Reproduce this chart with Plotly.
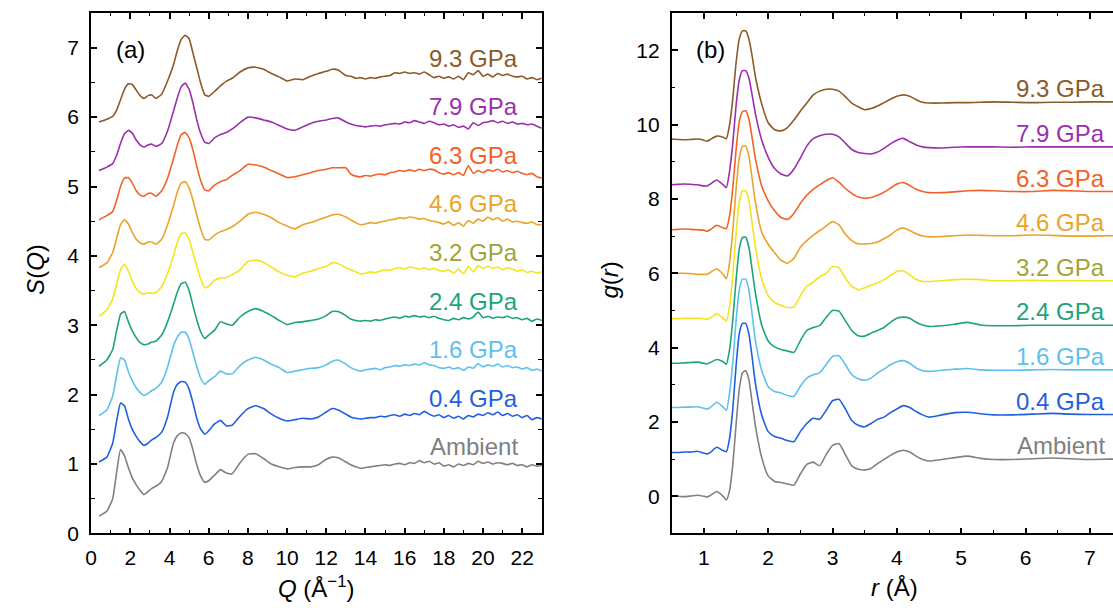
import plotly.graph_objects as go

# ---------------- data ----------------
PRESSURES = ["Ambient", "0.4 GPa", "1.6 GPa", "2.4 GPa", "3.2 GPa", "4.6 GPa", "6.3 GPa", "7.9 GPa", "9.3 GPa"]
LINE_COLORS = ["#808080", "#1f5fe0", "#5ec0ef", "#1ea37a", "#f4e41c", "#eba329", "#f26226", "#9b2fae", "#8c5a28"]
TEXT_COLORS = ["#808080", "#1f5fe0", "#5ec0ef", "#1ea37a", "#a0a434", "#eba329", "#f26226", "#9b2fae", "#8c5a28"]
SQ_OFFSETS = [0.0, 0.7, 1.4, 2.1, 2.8, 3.5, 4.2, 4.9, 5.6]
GR_OFFSETS = [0.0, 1.2, 2.4, 3.6, 4.8, 6.0, 7.2, 8.4, 9.6]

Q = [0.4, 0.8, 1.1, 1.3, 1.5, 1.7, 1.9, 2.1, 2.3, 2.5, 2.7, 2.9, 3.1, 3.3, 3.6, 3.9, 4.2, 4.4, 4.6, 4.8, 5.0, 5.2, 5.4, 5.6, 5.8, 6.0,
     6.3, 6.6, 6.9, 7.2, 7.6, 8.0, 8.4, 8.8, 9.2, 9.6, 10.0, 10.4, 10.8, 11.2, 11.6, 12.0, 12.3, 12.6,
     13.0, 13.25, 13.5, 13.75, 14.0, 14.25, 14.5, 14.75, 15.0, 15.25, 15.5, 15.75, 16.0, 16.25, 16.5, 16.75,
     17.0, 17.25, 17.5, 17.75, 18.0, 18.25, 18.5, 18.75, 19.0, 19.25, 19.5, 19.75, 20.0, 20.25, 20.5, 20.75,
     21.0, 21.25, 21.5, 21.75, 22.0, 22.25, 22.5, 22.75, 23.0]

SQ_AMB = [0.25, 0.32, 0.5, 0.88, 1.21, 1.12, 0.95, 0.8, 0.7, 0.62, 0.56, 0.6, 0.65, 0.68, 0.75, 0.95, 1.3, 1.41, 1.45, 1.44, 1.38, 1.2, 0.98, 0.82, 0.74, 0.76,
          0.84, 0.92, 0.87, 0.86, 1.02, 1.14, 1.15, 1.08, 1.0, 0.96, 0.93, 0.95, 0.96, 0.96, 0.99, 1.07, 1.1, 1.09,
          1.03, 0.99, 0.96, 0.94, 0.95, 0.96, 0.97, 0.98, 0.99, 0.98, 1.0, 1.01, 0.99, 1.02, 1.01, 1.05, 1.02, 1.04, 1.0, 1.02,
          0.97, 0.99, 0.96, 1.0, 0.98, 1.01, 0.99, 1.04, 1.01, 1.03, 1.0, 1.02, 1.01, 0.99, 1.01, 0.98, 0.99, 0.96, 0.99, 0.97, 0.98]
SQ_04 = [0.33, 0.4, 0.6, 0.92, 1.18, 1.14, 0.95, 0.8, 0.7, 0.62, 0.57, 0.6, 0.65, 0.68, 0.76, 0.98, 1.33, 1.45, 1.49, 1.48, 1.38, 1.18, 0.95, 0.8, 0.73, 0.78,
         0.88, 0.93, 0.85, 0.86, 0.99, 1.1, 1.14, 1.1, 1.02, 0.96, 0.92, 0.94, 0.96, 0.95, 0.98, 1.05, 1.1, 1.08,
         1.02, 0.98, 0.96, 0.95, 0.96, 0.97, 0.97, 0.99, 0.98, 1.0, 1.01, 0.99, 1.02, 1.0, 1.03, 1.01, 1.06, 1.02, 0.99, 1.01,
         0.97, 1.0, 0.96, 0.99, 0.95, 1.0, 0.98, 1.02, 1.0, 1.04, 1.01, 1.05, 1.0, 1.03, 0.99, 1.01, 0.97, 1.0, 0.94, 0.97, 0.95]
SQ_16 = [0.3, 0.38, 0.58, 0.88, 1.13, 1.1, 0.93, 0.8, 0.7, 0.63, 0.59, 0.62, 0.66, 0.69, 0.78, 1.0, 1.3, 1.43, 1.5, 1.5, 1.4, 1.2, 1.0, 0.83, 0.75, 0.8,
         0.86, 0.94, 0.9, 0.9, 1.02, 1.1, 1.14, 1.1, 1.04, 0.99, 0.92, 0.94, 0.96, 0.98, 0.99, 1.03, 1.08, 1.1,
         1.04, 0.99, 0.96, 0.94, 0.96, 0.97, 0.98, 0.96, 0.99, 1.0, 1.02, 1.01, 1.03, 1.02, 1.04, 1.03, 1.06, 1.03, 1.02, 0.99,
         0.98, 1.0, 0.97, 0.99, 0.95, 1.0, 0.98, 1.05, 1.0, 1.03, 1.01, 1.04, 1.0, 1.02, 0.99, 1.0, 0.97, 0.99, 0.95, 0.97, 0.94]
SQ_24 = [0.31, 0.4, 0.55, 0.82, 1.06, 1.1, 0.95, 0.82, 0.72, 0.65, 0.62, 0.63, 0.66, 0.67, 0.76, 0.95, 1.2, 1.38, 1.5, 1.52, 1.4, 1.18, 0.97, 0.8, 0.71, 0.76,
         0.83, 0.95, 0.92, 0.9, 1.02, 1.1, 1.14, 1.1, 1.04, 0.97, 0.91, 0.94, 0.95, 0.97, 0.99, 1.04, 1.1, 1.1,
         1.04, 0.99, 0.97, 0.96, 0.97, 0.96, 0.98, 0.97, 0.99, 1.01, 1.02, 1.0, 1.03, 1.02, 1.04, 1.02, 1.03, 1.01, 1.03, 1.0,
         0.98, 0.97, 1.0, 0.98, 1.01, 0.99, 1.02, 1.09, 1.01, 1.03, 1.0, 1.02, 1.01, 1.03, 1.0, 1.01, 0.98, 1.0, 0.96, 0.99, 0.97]
SQ_32 = [0.33, 0.42, 0.58, 0.8, 1.0, 1.08, 0.98, 0.84, 0.73, 0.67, 0.65, 0.67, 0.66, 0.67, 0.76, 0.95, 1.2, 1.4, 1.52, 1.53, 1.44, 1.24, 1.04, 0.86, 0.74, 0.76,
         0.85, 0.88, 0.89, 0.93, 1.0, 1.12, 1.14, 1.11, 1.04, 0.97, 0.92, 0.9, 0.95, 0.98, 1.02, 1.05, 1.1, 1.09,
         1.03, 1.0, 0.97, 0.94, 0.95, 0.97, 0.96, 0.98, 1.0, 0.99, 1.02, 1.03, 1.01, 1.04, 1.03, 1.01, 1.03, 1.0, 1.02, 0.99,
         0.98, 1.0, 0.95, 1.01, 0.94, 1.05, 0.97, 1.06, 1.02, 1.05, 1.02, 1.04, 1.0, 1.03, 1.01, 0.98, 1.0, 0.96, 0.98, 0.95, 0.97]
SQ_46 = [0.33, 0.4, 0.55, 0.75, 0.95, 1.02, 0.96, 0.84, 0.74, 0.69, 0.67, 0.7, 0.7, 0.67, 0.74, 0.95, 1.22, 1.42, 1.55, 1.57, 1.48, 1.3, 1.08, 0.88, 0.74, 0.73,
         0.8, 0.85, 0.88, 0.92, 1.0, 1.1, 1.13, 1.1, 1.05, 0.98, 0.93, 0.89, 0.95, 0.98, 1.02, 1.06, 1.09, 1.1,
         1.06, 1.02, 0.98, 0.95, 0.96, 0.98, 0.97, 0.99, 1.0, 1.02, 1.03, 1.05, 1.04, 1.06, 1.05, 1.03, 1.04, 1.01, 1.0, 0.98,
         0.96, 0.99, 0.94, 0.98, 0.93, 1.01, 0.97, 1.03, 1.0, 1.06, 1.02, 1.05, 1.0, 1.03, 0.99, 1.0, 0.98, 0.97, 0.99, 0.95, 0.95]
SQ_63 = [0.32, 0.38, 0.44, 0.6, 0.8, 0.92, 0.93, 0.85, 0.74, 0.68, 0.66, 0.7, 0.7, 0.66, 0.74, 0.92, 1.2, 1.4, 1.55, 1.58, 1.5, 1.32, 1.08, 0.88, 0.75, 0.74,
         0.82, 0.87, 0.9, 0.96, 1.03, 1.12, 1.11, 1.08, 1.03, 0.98, 0.93, 0.94, 0.97, 1.0, 1.03, 1.05, 1.07, 1.07,
         1.07, 0.98, 0.95, 0.94, 0.96, 0.95, 0.97, 0.98, 0.97, 1.0, 1.01, 1.03, 1.02, 1.04, 1.02, 1.05, 1.03, 1.05, 1.04, 1.0,
         0.98, 1.0, 0.97, 1.0, 0.96, 1.1, 0.99, 1.03, 1.0, 1.04, 1.02, 1.05, 1.01, 1.03, 1.0, 1.02, 0.99, 0.97, 0.99, 0.94, 0.92]
SQ_79 = [0.33, 0.38, 0.43, 0.55, 0.72, 0.86, 0.91, 0.87, 0.77, 0.7, 0.67, 0.7, 0.71, 0.68, 0.72, 0.9, 1.18, 1.38, 1.54, 1.59, 1.5, 1.3, 1.05, 0.86, 0.74, 0.72,
         0.8, 0.85, 0.88, 0.93, 1.02, 1.1, 1.09, 1.06, 1.03, 0.98, 0.93, 0.91, 0.96, 1.01, 1.04, 1.06, 1.08, 1.09,
         1.03, 1.0, 0.98, 0.97, 0.96, 0.97, 0.98, 0.97, 0.99, 1.0, 1.01, 1.0, 1.03, 1.02, 1.05, 1.03, 1.01, 1.04, 1.02, 0.99,
         1.0, 0.97, 0.99, 0.95, 0.97, 0.93, 1.02, 0.98, 1.02, 1.03, 1.05, 1.02, 1.04, 1.01, 1.03, 1.0, 1.01, 0.99, 1.0, 0.97, 0.94]
SQ_93 = [0.33, 0.37, 0.41, 0.5, 0.65, 0.8, 0.88, 0.87, 0.79, 0.71, 0.67, 0.71, 0.72, 0.67, 0.73, 0.92, 1.15, 1.36, 1.52, 1.58, 1.53, 1.32, 1.1, 0.88, 0.72, 0.7,
         0.77, 0.85, 0.92, 0.96, 1.05, 1.11, 1.12, 1.09, 1.03, 0.98, 0.92, 0.95, 0.94, 0.99, 1.03, 1.06, 1.09, 1.08,
         1.0, 0.99, 0.96, 0.97, 0.95, 0.97, 0.96, 0.98, 0.99, 1.0, 1.04, 1.03, 1.05, 1.03, 1.04, 1.02, 1.05, 1.01, 0.97, 0.99,
         0.96, 0.98, 0.95, 0.99, 0.94, 1.04, 1.01, 1.07, 0.99, 1.02, 0.98, 1.03, 1.0, 1.02, 0.99, 0.98, 0.99, 0.95, 0.97, 0.94, 0.96]

R = [0.5, 0.6, 0.7, 0.8, 0.9, 1.0, 1.05, 1.1, 1.2, 1.3, 1.35, 1.4, 1.45, 1.5, 1.55, 1.6, 1.65, 1.7, 1.75, 1.8,
     1.9, 2.0, 2.1, 2.2, 2.3, 2.4, 2.5, 2.6, 2.7, 2.8, 2.9, 3.0, 3.1, 3.2, 3.3, 3.4, 3.5, 3.6, 3.7, 3.8,
     3.9, 4.0, 4.1, 4.2, 4.3, 4.4, 4.5, 4.7, 4.9, 5.1, 5.3, 5.5, 5.8, 6.1, 6.4, 6.7, 7.0, 7.3, 7.6, 8.0]

GR_AMB = [0.0, 0.0, -0.01, 0.01, 0.03, 0.0, -0.02, 0.02, 0.13, 0.0, -0.1, 0.16, 0.86, 1.91, 2.88, 3.32, 3.38, 3.14, 2.53, 1.91,
          1.04, 0.55, 0.4, 0.37, 0.33, 0.3, 0.6, 0.86, 0.92, 0.82, 1.12, 1.37, 1.42, 1.12, 0.82, 0.73, 0.71, 0.75, 0.88, 0.99,
          1.1, 1.19, 1.24, 1.19, 1.08, 0.99, 0.95, 0.99, 1.04, 1.08, 1.02, 0.99, 0.99, 1.01, 1.03, 1.01, 0.99, 1.0, 1.0, 1.0]
GR_04 = [-0.02, -0.02, -0.01, -0.01, 0.01, -0.04, -0.06, -0.02, 0.12, 0.03, 0.0, 0.36, 1.15, 2.29, 3.17, 3.45, 3.45, 3.17, 2.55, 1.85,
         0.98, 0.54, 0.41, 0.36, 0.3, 0.27, 0.54, 0.76, 0.9, 0.87, 1.11, 1.37, 1.41, 1.15, 0.84, 0.71, 0.67, 0.76, 0.87, 0.93,
         1.05, 1.15, 1.24, 1.19, 1.08, 0.99, 0.93, 0.99, 1.05, 1.06, 1.02, 0.99, 0.99, 1.01, 1.03, 1.01, 1.0, 1.0, 1.0, 1.0]
GR_16 = [-0.01, -0.01, 0.0, 0.0, 0.01, -0.03, -0.05, -0.01, 0.13, 0.0, -0.09, 0.39, 1.2, 2.3, 3.15, 3.44, 3.44, 3.15, 2.5, 1.8,
         0.98, 0.55, 0.42, 0.38, 0.31, 0.29, 0.56, 0.78, 0.87, 0.92, 1.14, 1.36, 1.38, 1.14, 0.87, 0.76, 0.72, 0.78, 0.92, 1.02,
         1.14, 1.22, 1.25, 1.18, 1.05, 0.98, 0.96, 0.99, 1.02, 1.04, 1.0, 0.99, 0.99, 1.0, 1.01, 1.0, 1.0, 1.0, 1.0, 1.0]
GR_24 = [-0.02, -0.02, -0.01, 0.0, 0.01, -0.02, -0.04, 0.0, 0.08, 0.02, -0.05, 0.35, 1.15, 2.2, 3.05, 3.36, 3.37, 3.1, 2.5, 1.88,
         1.0, 0.58, 0.42, 0.35, 0.31, 0.27, 0.59, 0.86, 0.94, 0.99, 1.21, 1.4, 1.38, 1.12, 0.86, 0.72, 0.71, 0.79, 0.86, 0.94,
         1.08, 1.19, 1.22, 1.19, 1.08, 1.01, 0.97, 0.99, 1.03, 1.08, 1.01, 0.99, 0.99, 1.0, 1.0, 1.0, 1.0, 1.0, 1.0, 1.0]
GR_32 = [-0.02, -0.02, -0.01, -0.01, -0.01, -0.02, -0.04, 0.0, 0.11, -0.01, -0.08, 0.3, 1.15, 2.25, 3.1, 3.42, 3.42, 3.15, 2.55, 1.92,
         1.05, 0.6, 0.42, 0.33, 0.28, 0.29, 0.6, 0.85, 0.96, 1.11, 1.2, 1.38, 1.35, 1.07, 0.85, 0.76, 0.81, 0.88, 0.94, 1.03,
         1.14, 1.25, 1.26, 1.16, 1.03, 0.98, 0.98, 1.0, 1.03, 1.04, 1.03, 1.0, 1.0, 1.01, 1.0, 1.0, 1.0, 1.0, 1.0, 1.0]
GR_46 = [0.0, 0.0, 0.0, -0.01, -0.03, -0.03, -0.03, 0.02, 0.12, -0.03, -0.15, 0.3, 1.15, 2.25, 3.1, 3.42, 3.42, 3.15, 2.55, 1.92,
         1.1, 0.78, 0.55, 0.35, 0.27, 0.4, 0.7, 0.88, 1.02, 1.15, 1.27, 1.39, 1.3, 1.05, 0.88, 0.79, 0.79, 0.8, 0.84, 0.93,
         1.03, 1.16, 1.22, 1.15, 1.06, 1.0, 0.98, 0.99, 1.01, 1.03, 1.02, 1.01, 1.01, 1.03, 1.02, 1.0, 1.0, 1.01, 1.01, 1.01]
GR_63 = [-0.03, -0.02, -0.01, -0.02, -0.03, -0.04, -0.07, -0.03, 0.09, 0.02, 0.0, 0.35, 1.1, 2.1, 2.88, 3.15, 3.17, 2.95, 2.45, 1.9,
         1.15, 0.75, 0.48, 0.3, 0.25, 0.41, 0.68, 0.9, 1.06, 1.18, 1.29, 1.37, 1.25, 1.08, 0.95, 0.85, 0.82, 0.84, 0.9, 0.98,
         1.09, 1.2, 1.24, 1.16, 1.06, 1.0, 0.97, 0.97, 0.99, 1.02, 1.03, 1.02, 1.0, 1.0, 1.03, 1.02, 1.0, 1.0, 1.0, 1.0]
GR_79 = [-0.02, -0.01, 0.0, -0.01, -0.02, -0.05, -0.05, 0.0, 0.11, -0.02, -0.1, 0.35, 1.1, 2.1, 2.8, 3.05, 3.05, 2.85, 2.4, 1.9,
         1.18, 0.72, 0.42, 0.27, 0.22, 0.4, 0.7, 1.02, 1.22, 1.3, 1.34, 1.34, 1.27, 1.1, 0.93, 0.85, 0.82, 0.81, 0.86, 0.96,
         1.08, 1.18, 1.23, 1.14, 1.05, 1.0, 0.98, 0.97, 0.99, 1.0, 1.0, 1.0, 0.99, 1.0, 1.0, 1.0, 1.0, 1.0, 1.0, 1.01]
GR_93 = [0.01, 0.0, -0.01, 0.0, 0.01, -0.02, -0.05, 0.0, 0.09, 0.06, 0.02, 0.4, 1.1, 2.05, 2.7, 2.92, 2.92, 2.7, 2.25, 1.7,
         0.95, 0.45, 0.26, 0.23, 0.32, 0.52, 0.76, 0.98, 1.2, 1.3, 1.35, 1.35, 1.3, 1.15, 0.98, 0.88, 0.8, 0.83, 0.9, 0.99,
         1.08, 1.16, 1.2, 1.16, 1.07, 1.0, 0.98, 0.98, 0.99, 0.99, 1.0, 1.01, 1.0, 0.99, 1.0, 1.0, 1.01, 1.01, 1.01, 1.01]

SQ_ALL = [SQ_AMB, SQ_04, SQ_16, SQ_24, SQ_32, SQ_46, SQ_63, SQ_79, SQ_93]
GR_ALL = [GR_AMB, GR_04, GR_16, GR_24, GR_32, GR_46, GR_63, GR_79, GR_93]

for s in SQ_ALL:
    assert len(s) == len(Q), len(s)
for g in GR_ALL:
    assert len(g) == len(R), len(g)

# ---------------- figure ----------------
FONT = "Arial, 'Liberation Sans', sans-serif"
W, H = 1113, 608

fig = go.Figure()

for i in range(len(PRESSURES)):
    fig.add_trace(go.Scatter(
        x=Q, y=[v + SQ_OFFSETS[i] for v in SQ_ALL[i]], mode="lines",
        line=dict(color=LINE_COLORS[i], width=1.6, shape="spline", smoothing=0.4),
        xaxis="x", yaxis="y", showlegend=False, hoverinfo="skip"))
    fig.add_trace(go.Scatter(
        x=R, y=[v + GR_OFFSETS[i] for v in GR_ALL[i]], mode="lines",
        line=dict(color=LINE_COLORS[i], width=1.6, shape="spline", smoothing=0.5),
        xaxis="x2", yaxis="y2", showlegend=False, hoverinfo="skip"))

annotations = []
for i, name in enumerate(PRESSURES):
    annotations.append(dict(x=21.9, y=SQ_OFFSETS[i] + 1.25, xref="x", yref="y", text=name,
                            showarrow=False, xanchor="right", yanchor="middle",
                            font=dict(family=FONT, size=24, color=TEXT_COLORS[i])))
    annotations.append(dict(x=7.27, y=GR_OFFSETS[i] + 1.36, xref="x2", yref="y2", text=name,
                            showarrow=False, xanchor="right", yanchor="middle",
                            font=dict(family=FONT, size=24, color=TEXT_COLORS[i])))

annotations += [
    dict(x=2.0, y=6.98, xref="x", yref="y", text="(a)", showarrow=False,
         xanchor="center", yanchor="middle", font=dict(family=FONT, size=24, color="black")),
    dict(x=1.1, y=12.02, xref="x2", yref="y2", text="(b)", showarrow=False,
         xanchor="center", yanchor="middle", font=dict(family=FONT, size=24, color="black")),
    dict(x=29 / W, y=1 - 274 / H, xref="paper", yref="paper", text="<i>S</i>(<i>Q</i>)", textangle=-90,
         xanchor="center", yanchor="middle", showarrow=False, font=dict(family=FONT, size=24, color="black")),
    dict(x=312 / W, y=1 - 598 / H, xref="paper", yref="paper", text="<i>Q</i> (Å<sup>−1</sup>)",
         xanchor="center", yanchor="middle", showarrow=False, font=dict(family=FONT, size=24, color="black")),
    dict(x=607 / W, y=1 - 285 / H, xref="paper", yref="paper", text="<i>g</i>(<i>r</i>)", textangle=-90,
         xanchor="center", yanchor="middle", showarrow=False, font=dict(family=FONT, size=24, color="black")),
    dict(x=893 / W, y=1 - 598 / H, xref="paper", yref="paper", text="<i>r</i> (Å)",
         xanchor="center", yanchor="middle", showarrow=False, font=dict(family=FONT, size=24, color="black")),
]

ydom = [1 - 543.3 / H, 1 - 13.3 / H]
common = dict(showline=True, linecolor="black", linewidth=1.8, ticks="inside", ticklen=6,
              tickwidth=1.5, tickcolor="black", showgrid=False, zeroline=False,
              tickfont=dict(family=FONT, size=21, color="black"))

fig.update_layout(
    width=W, height=H, margin=dict(l=0, r=0, t=0, b=0),
    paper_bgcolor="white", plot_bgcolor="white",
    xaxis=dict(domain=[85.6 / W, 538.7 / W], range=[0, 23], tickmode="linear", tick0=0, dtick=2,
               mirror="ticks", anchor="y", ticklabelstandoff=4,
               minor=dict(dtick=1, ticks="inside", ticklen=3.5, tickwidth=1.3, tickcolor="black"), **common),
    yaxis=dict(domain=ydom, range=[0, 7.5], tickmode="linear", tick0=0, dtick=1,
               mirror="ticks", anchor="x", ticklabelstandoff=6,
               minor=dict(dtick=0.5, ticks="inside", ticklen=3.5, tickwidth=1.3, tickcolor="black"), **common),
    xaxis2=dict(domain=[669.3 / W, 1.0], range=[0.5, 7.36], tickmode="linear", tick0=1, dtick=1,
                mirror="ticks", anchor="y2", ticklabelstandoff=4,
                minor=dict(dtick=0.5, ticks="inside", ticklen=3.5, tickwidth=1.3, tickcolor="black"), **common),
    yaxis2=dict(domain=ydom, range=[-1, 13], tickmode="linear", tick0=0, dtick=2,
                mirror=False, anchor="x2", ticklabelstandoff=6,
                minor=dict(dtick=1, ticks="inside", ticklen=3.5, tickwidth=1.3, tickcolor="black"), **common),
    annotations=annotations,
)

fig.write_html("out.html", config={"displayModeBar": False},
               post_script="document.body.style.margin='0';document.body.style.overflow='hidden';")
